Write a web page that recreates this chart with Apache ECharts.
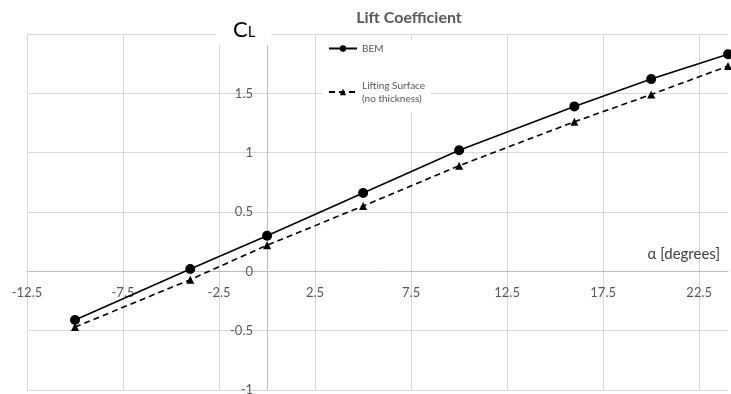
<!DOCTYPE html>
<html><head><meta charset="utf-8">
<script src="https://cdn.jsdelivr.net/npm/echarts@6/dist/echarts.min.js"></script>
<style>html,body{margin:0;padding:0;background:#fff}#c{width:731px;height:394px}</style>
</head><body><div id="c"></div>
<script>
const alpha = [-10, -4, 0, 5, 10, 16, 20, 24];
const bem = [-0.41, 0.02, 0.30, 0.66, 1.02, 1.39, 1.62, 1.83];
const liftingSurface = [-0.47, -0.07, 0.22, 0.55, 0.89, 1.26, 1.49, 1.73];
const xTicks = [-12.5, -7.5, -2.5, 2.5, 7.5, 12.5, 17.5, 22.5];

const FONT = 'Lato';
const chart = echarts.init(document.getElementById('c'), null, {renderer: 'canvas'});
chart.setOption({
  animation: false,
  backgroundColor: '#fff',
  title: {
    text: 'Lift Coefficient', left: 404, top: 5, textAlign: 'center',
    textStyle: {fontFamily: FONT, fontWeight: 'bold', fontSize: 16, color: '#595959'}
  },
  legend: {
    orient: 'vertical', left: 322, top: 40,
    backgroundColor: '#fff', padding: [2, 6, 8, 6],
    itemWidth: 28, itemHeight: 8, itemGap: 24,
    textStyle: {fontFamily: FONT, fontSize: 10, color: '#595959', lineHeight: 13},
    data: ['BEM', 'Lifting Surface\n(no thickness)']
  },
  grid: {left: 27, right: 3, top: 34, bottom: 4, outerBoundsMode: 'none', containLabel: false},
  xAxis: {
    type: 'value', min: -12.5, max: 24, position: 'bottom', offset: -119,
    name: 'α [degrees]', nameLocation: 'end', nameGap: -8,
    nameTextStyle: {fontFamily: FONT, fontSize: 15, color: '#404040', align: 'right', verticalAlign: 'bottom', padding: [0, 0, 9, 0]},
    axisLine: {onZero: false, lineStyle: {color: '#bfbfbf', width: 1}},
    axisTick: {show: false, customValues: xTicks},
    axisLabel: {customValues: xTicks, margin: 15, fontFamily: FONT, fontSize: 13, color: '#595959'},
    splitLine: {show: true, lineStyle: {color: '#d9d9d9', width: 1}}
  },
  yAxis: {
    type: 'value', min: -1, max: 2, interval: 0.5, position: 'left', offset: -240,
    axisLine: {show: true, onZero: false, lineStyle: {color: '#bfbfbf', width: 1}},
    axisTick: {show: false},
    axisLabel: {margin: 14, fontFamily: FONT, fontSize: 13, color: '#595959', showMaxLabel: false,
      formatter: v => String(v)},
    splitLine: {show: true, lineStyle: {color: '#d9d9d9', width: 1}}
  },
  graphic: [{
    type: 'text', left: 215, top: 17, z: 100,
    style: {
      text: '{c|C}{l|L}',
      rich: {c: {fontFamily: FONT, fontSize: 22, fill: '#000'}, l: {fontFamily: FONT, fontSize: 15, fill: '#000', verticalAlign: 'bottom', padding: [0,0,1,0]}},
      backgroundColor: '#fff', padding: [2, 16, 4, 18]
    }
  }],
  series: [
    {
      name: 'BEM', type: 'line', data: alpha.map((a, i) => [a, bem[i]]),
      symbol: 'circle', symbolSize: 10,
      lineStyle: {color: '#000', width: 1.6},
      itemStyle: {color: '#000'}, z: 3
    },
    {
      name: 'Lifting Surface\n(no thickness)', type: 'line', data: alpha.map((a, i) => [a, liftingSurface[i]]),
      symbol: 'triangle', symbolSize: 8,
      lineStyle: {color: '#000', width: 1.6, type: [6, 4]},
      itemStyle: {color: '#000'}, z: 2
    }
  ]
});
</script></body></html>
